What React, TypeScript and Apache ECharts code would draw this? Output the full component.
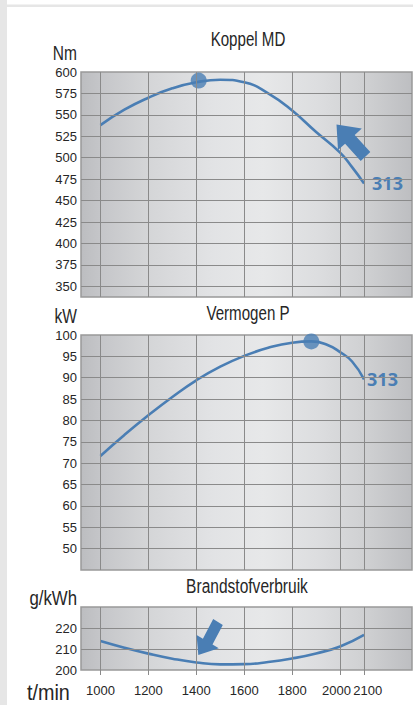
import React, { useEffect, useRef } from "react";
import * as echarts from "echarts";

// ---------- data ----------
const rpmTicks = [1000, 1200, 1400, 1600, 1800, 2000, 2100];
const rpmLabelsMain = [1000, 1200, 1400, 1600, 1800];
const rpmLabel2000 = [2000];
const rpmLabel2100 = [2100];

const torqueRpm = [1000, 1100, 1200, 1300, 1400, 1500, 1600, 1700, 1800, 1900, 2000, 2050, 2100];
const torqueNm = [538, 556, 570, 581, 588, 591, 588, 575, 555, 530, 506, 489, 470];
const torqueTicks = [350, 375, 400, 425, 450, 475, 500, 525, 550, 575, 600];
const torquePeak = [1410, 590];

const powerRpm = [1000, 1100, 1200, 1300, 1400, 1500, 1600, 1700, 1800, 1880, 1950, 2000, 2050, 2100];
const powerKw = [71.7, 76.6, 81.2, 85.5, 89.4, 92.6, 95.1, 97.0, 98.2, 98.5, 97.6, 96.0, 93.8, 89.6];
const powerTicks = [50, 55, 60, 65, 70, 75, 80, 85, 90, 95, 100];
const powerPeak = [1880, 98.5];

const fuelRpm = [1000, 1100, 1200, 1300, 1400, 1500, 1600, 1700, 1800, 1900, 2000, 2100];
const fuelG = [213.8, 210.6, 207.8, 205.4, 203.6, 202.7, 202.8, 203.8, 205.5, 207.9, 211.2, 216.7];
const fuelTicks = [200, 210, 220];

const engineLabel = "313";

// ---------- styles ----------
const FONT = "'Liberation Sans', Arial, sans-serif";
const BLUE = "#4a7eb4";
const GRIDLINE = "#8a8a8a";
const TEXT = "#262626";
const FIGSP = "\u2007";

const zip = (xs: number[], ys: number[]) => xs.map((x, i) => [x, ys[i]]);

const makeBg = () =>
  new echarts.graphic.LinearGradient(0, 0, 1, 0, [
    { offset: 0, color: "#bcbdc0" },
    { offset: 0.06, color: "#c5c6c9" },
    { offset: 0.2, color: "#d4d5d7" },
    { offset: 0.4, color: "#e2e3e5" },
    { offset: 0.55, color: "#e7e8e9" },
    { offset: 0.72, color: "#dcdddf" },
    { offset: 0.87, color: "#cecfd1" },
    { offset: 1, color: "#bdbec1" },
  ]);

export default function App() {
  const ref = useRef<HTMLDivElement>(null);

  useEffect(() => {
    if (!ref.current) return;
    const chart = echarts.init(ref.current, null, { renderer: "svg" });

    const grids = [
      { left: 81, top: 72, width: 331, height: 225 },
      { left: 81, top: 335, width: 331, height: 235 },
      { left: 81, top: 607, width: 331, height: 63 },
    ].map((g) => ({
      ...g,
      show: true,
      backgroundColor: makeBg(),
      borderColor: "#999999",
      borderWidth: 1.5,
    }));

    const labelText = { fontSize: 13, fontFamily: FONT, color: TEXT };

    const baseX = (i: number) => ({
      type: "value",
      gridIndex: i,
      position: "bottom",
      min: 919,
      max: 2300,
      axisLine: { show: false },
      splitLine: { show: false },
      axisTick: { show: false },
      axisLabel: { show: false },
    });

    // the two closely spaced end labels are nudged apart with a figure space
    const labelAxis = (values: number[], fmt: (v: number) => string) => ({
      ...baseX(2),
      axisLabel: {
        show: true,
        customValues: values,
        showMinLabel: true,
        showMaxLabel: true,
        margin: 14,
        ...labelText,
        formatter: fmt,
      },
    });

    const xAxis = [
      baseX(0),
      baseX(1),
      {
        ...labelAxis(rpmLabelsMain, (v) => String(v)),
        axisTick: { show: true, customValues: rpmTicks, length: 5, lineStyle: { color: "#8a8a8a", width: 1 } },
      },
      labelAxis(rpmLabel2000, (v) => `${v}${FIGSP}`),
      labelAxis(rpmLabel2100, (v) => `${FIGSP}${v}`),
    ];

    const yDefs = [
      { min: 337.5, max: 600, ticks: torqueTicks },
      { min: 45, max: 100, ticks: powerTicks },
      { min: 200, max: 230, ticks: fuelTicks },
    ];
    const yAxis = yDefs.map((d, i) => ({
      type: "value",
      gridIndex: i,
      min: d.min,
      max: d.max,
      axisLine: { show: false },
      axisTick: { show: false },
      splitLine: { show: false },
      axisLabel: {
        customValues: d.ticks,
        showMinLabel: true,
        showMaxLabel: true,
        margin: 4,
        ...labelText,
        formatter: (v: number) => String(v),
      },
    }));

    const gridLineSeries = yDefs.map((d, i) => ({
      type: "line",
      xAxisIndex: i,
      yAxisIndex: i,
      data: [],
      z: 1,
      silent: true,
      markLine: {
        silent: true,
        symbol: ["none", "none"],
        label: { show: false },
        emphasis: { disabled: true },
        lineStyle: { color: GRIDLINE, width: 1, type: "solid" },
        data: [
          ...rpmTicks.map((v) => ({ xAxis: v })),
          ...d.ticks.filter((v) => v > d.min && v < d.max).map((v) => ({ yAxis: v })),
        ],
      },
    }));

    const endLabel = (distance: number) => ({
      show: true,
      formatter: engineLabel,
      color: BLUE,
      fontWeight: "bold",
      fontSize: 18,
      fontFamily: "'Noto Sans', 'DejaVu Sans', sans-serif",
      distance,
    });

    const curve = (i: number, data: number[][], labelDistance: number | null) => ({
      type: "line",
      xAxisIndex: i,
      yAxisIndex: i,
      data,
      smooth: 0.5,
      showSymbol: false,
      z: 3,
      silent: true,
      lineStyle: { color: BLUE, width: 2.6 },
      endLabel: labelDistance === null ? { show: false } : endLabel(labelDistance),
    });

    const dot = (i: number, p: number[]) => ({
      type: "scatter",
      xAxisIndex: i,
      yAxisIndex: i,
      data: [p],
      symbolSize: 16,
      z: 4,
      silent: true,
      itemStyle: { color: BLUE },
    });

    const txt = (text: string, x: number, y: number, size: number, sx: number, align: string) => ({
      type: "text",
      x,
      y,
      scaleX: sx,
      style: { text, fontSize: size, fontFamily: FONT, fill: TEXT, align, verticalAlign: "middle" },
    });

    chart.setOption({
      animation: false,
      backgroundColor: "#ffffff",
      grid: grids,
      xAxis,
      yAxis,
      series: [
        ...gridLineSeries,
        curve(0, zip(torqueRpm, torqueNm), 8),
        curve(1, zip(powerRpm, powerKw), 3),
        curve(2, zip(fuelRpm, fuelG), null),
        dot(0, torquePeak),
        dot(1, powerPeak),
      ],
      graphic: [
        { type: "rect", shape: { x: 0, y: 0, width: 7, height: 705 }, style: { fill: "#e6e6e6" }, z: 0 },
        { type: "rect", shape: { x: 0, y: 4.5, width: 413, height: 2.5 }, style: { fill: "#e6e6e6" }, z: 0 },
        txt("Koppel MD", 248, 39, 21, 0.72, "center"),
        txt("Vermogen P", 248, 313, 21, 0.72, "center"),
        txt("Brandstofverbruik", 247, 586, 21, 0.74, "center"),
        txt("Nm", 77, 52.5, 21, 0.74, "right"),
        txt("kW", 77, 315.5, 21, 0.74, "right"),
        txt("g/kWh", 77, 598, 21, 0.8, "right"),
        txt("t/min", 27, 692, 22, 0.9, "left"),
        {
          type: "polygon",
          z: 10,
          shape: {
            points: [
              [336.5, 124.5],
              [361.8, 128.6],
              [354.7, 134.9],
              [370.3, 152.1],
              [360.7, 160.9],
              [345.1, 143.7],
              [338.0, 150.0],
            ],
          },
          style: { fill: BLUE },
        },
        {
          type: "polygon",
          z: 10,
          shape: {
            points: [
              [198.3, 655],
              [218.8, 648.3],
              [212.5, 644.6],
              [222.8, 624.9],
              [213.2, 619.1],
              [202.9, 638.8],
              [196.6, 635.1],
            ],
          },
          style: { fill: BLUE },
        },
      ],
    });

    return () => chart.dispose();
  }, []);

  return (
    <div
      ref={ref}
      style={{ position: "absolute", left: 0, top: 0, width: 413, height: 705, background: "#fff" }}
    />
  );
}
